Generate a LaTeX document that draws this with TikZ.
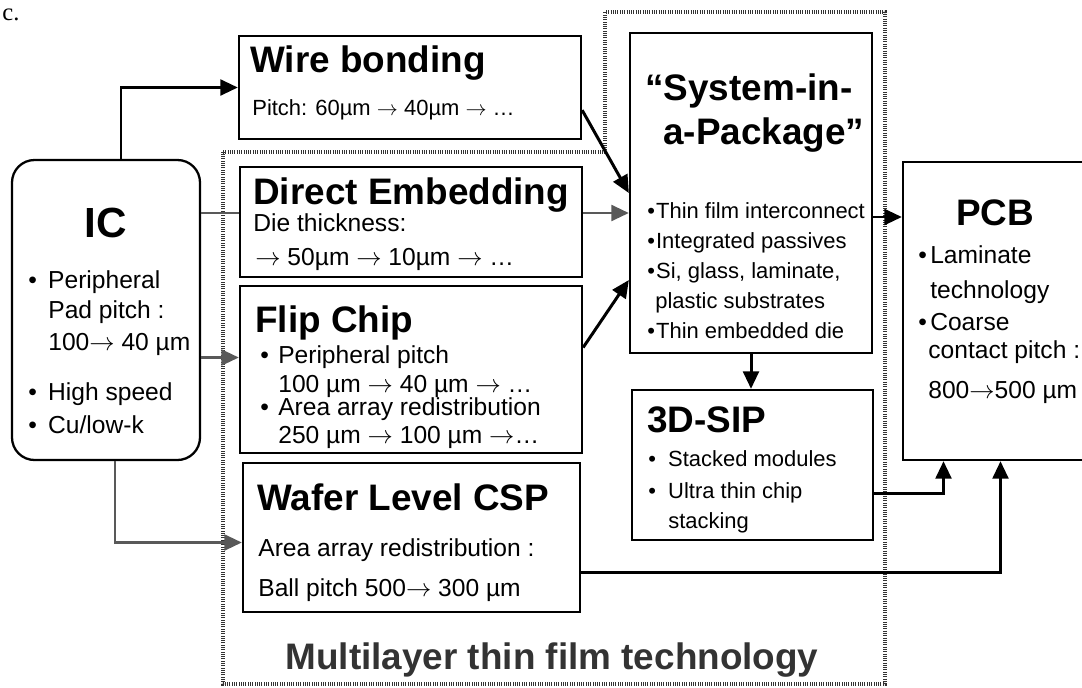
\documentclass[tikz,border=0pt]{standalone}
\usepackage{fontspec}
\setmainfont{Liberation Sans}
\newfontfamily\markfont{Liberation Serif}
\usetikzlibrary{arrows.meta,calc,fit}

% bullet with a fixed gap before the item text
\newcommand{\dotitem}[1][11pt]{\makebox[#1][l]{•}}
% arrow in the pitch trends
\newcommand{\pto}{\ensuremath{\rightarrow}}

\tikzset{
  box/.style={draw, line width=1.3pt, inner sep=0pt},
  film/.style={draw=black!80, line width=2.6pt, dash pattern=on 0.5pt off 0.8pt},
  link/.style={line width=1.7pt, -{Triangle[length=10pt,width=9pt]}},
  title/.style={anchor=mid west, inner sep=0pt, yshift=-4.5pt, font=\bfseries\fontsize{21}{21}\selectfont},
  heading/.style={anchor=center, inner sep=0pt, font=\bfseries\fontsize{21}{21}\selectfont},
  big/.style={anchor=mid west, inner sep=0pt, yshift=-2pt, font=\fontsize{14}{14}\selectfont},
  small/.style={anchor=mid west, inner sep=0pt, yshift=-2pt, font=\fontsize{12.5}{12.5}\selectfont},
}

\begin{document}
\begin{tikzpicture}[x=0.02cm, y=-0.02cm]
\useasboundingbox (0,0) rectangle (1082,687);
\clip (0,0) rectangle (1082,687);

% thin film region (hatched outline)
\draw[film] (223,152) -- (605,152) -- (605,12) -- (885,12) -- (885,684) -- (223,684) -- cycle;
\node[heading, text=black!80] (film-label) at (552,660) {Multilayer thin film technology};

\node[anchor=base west, inner sep=0pt, font=\markfont\fontsize{14}{14}\selectfont] (mark) at (2,20) {c.};

% boxes
\node[box, rounded corners=0.45cm, fit={(12,160) (200,460)}] (ic) {};
\node[box, fit={(239,36) (581,139)}] (wb) {};
\node[box, fit={(240,167) (582,277)}] (de) {};
\node[box, fit={(240,286) (582,453)}] (fc) {};
\node[box, fit={(243,463) (580,612)}] (wl) {};
\node[box, fit={(630,33) (872,353)}] (sip) {};
\node[box, fit={(632,390) (873,540)}] (sip3d) {};
\node[box, fit={(903,162) (1090,460)}] (pcb) {};

% IC
\node[heading, font=\bfseries\fontsize{24}{24}\selectfont] (ic-title) at (106,223) {IC};
\node[big] (ic-1) at (28,280) {\dotitem[11.3pt]Peripheral};
\node[big] (ic-2) at (48,310) {Pad pitch :};
\node[big] (ic-3) at (48,342) {100\pto{} 40 µm};
\node[big] (ic-4) at (28,392) {\dotitem[11.3pt]High speed};
\node[big] (ic-5) at (28,425) {\dotitem[11.3pt]Cu/low-k};

% wire bonding
\node[title] (wb-title) at (250,60) {Wire bonding};
\node[small] (wb-1) at (252,107) {Pitch: 60µm \pto{} 40µm \pto{} …};

% direct embedding
\node[title] (de-title) at (253,192) {Direct Embedding};
\node[big] (de-1) at (253,223) {Die thickness:};
\node[big] (de-2) at (255,257) {\pto{} 50µm \pto{} 10µm \pto{} …};

% flip chip
\node[title] (fc-title) at (255,320) {Flip Chip};
\node[big] (fc-1) at (260,355) {\dotitem[10.2pt]Peripheral pitch};
\node[big] (fc-2) at (278,384) {100 µm \pto{} 40 µm \pto{} …};
\node[big] (fc-3) at (260,407) {\dotitem[10.2pt]Area array redistribution};
\node[big] (fc-4) at (278,435) {250 µm \pto{} 100 µm \pto…};

% wafer level CSP
\node[title] (wl-title) at (257,498) {Wafer Level CSP};
\node[big] (wl-1) at (258,548) {Area array redistribution :};
\node[big] (wl-2) at (258,588) {Ball pitch 500\pto{} 300 µm};

% system in package
\node[title] (sip-t1) at (645,88) {“System-in-};
\node[title] (sip-t2) at (663,132) {a-Package”};
\node[small] (sip-1) at (647,210) {\dotitem[5pt]Thin film interconnect};
\node[small] (sip-2) at (647,240) {\dotitem[5pt]Integrated passives};
\node[small] (sip-3) at (647,270) {\dotitem[5pt]Si, glass, laminate,};
\node[small] (sip-4) at (655,300) {plastic substrates};
\node[small] (sip-5) at (647,330) {\dotitem[5pt]Thin embedded die};

% 3D-SIP
\node[title] (s3-title) at (647,420) {3D-SIP};
\node[small] (s3-1) at (648,458) {\dotitem[11.3pt]Stacked modules};
\node[small] (s3-2) at (648,490) {\dotitem[11.3pt]Ultra thin chip};
\node[small] (s3-3) at (668,520) {stacking};

% PCB
\node[heading] (pcb-title) at (995,213) {PCB};
\node[big] (pcb-1) at (918,255) {\dotitem[6.8pt]Laminate};
\node[big] (pcb-2) at (930,290) {technology};
\node[big] (pcb-3) at (918,322) {\dotitem[6.8pt]Coarse};
\node[big] (pcb-4) at (928,350) {contact pitch :};
\node[big] (pcb-5) at (928,390) {800\pto500 µm};

% connectors
\coordinate (de-in) at ($(de.west)+(0,-9)$);
\coordinate (fc-in) at ($(fc.west)+(0,-12)$);
\coordinate (wl-in) at ($(wl.west)+(0,5)$);
\coordinate (pcb-in) at ($(pcb.west)+(0,-94)$);

\draw[link] ($(ic.north)+(15,0)$) |- (wb.west);
\draw[line width=1.7pt, black!65] (ic.east |- de-in) -- (de-in);
\draw[link, black!65] (ic.east |- fc-in) -- (fc-in);
\draw[link, black!65] ($(ic.south)+(9,0)$) |- (wl-in);

\draw[link] ($(wb.south east)+(0,-30)$) -- (sip.west);
\draw[link, black!65] (de-in -| de.east) -- (de-in -| sip.west);
\draw[link] ($(fc.east)+(0,-22)$) -- ($(sip.west)+(0,87)$);

\draw[link] (pcb-in -| sip.east) -- (pcb-in);
\draw[link] (sip.south) -- (sip.south |- sip3d.north);
\draw[link] ($(sip3d.east)+(0,28)$) -| ($(pcb.south)+(-53,0)$);
\draw[link] ($(wl.east)+(0,35)$) -| ($(pcb.south)+(4,0)$);

\end{tikzpicture}
\end{document}
